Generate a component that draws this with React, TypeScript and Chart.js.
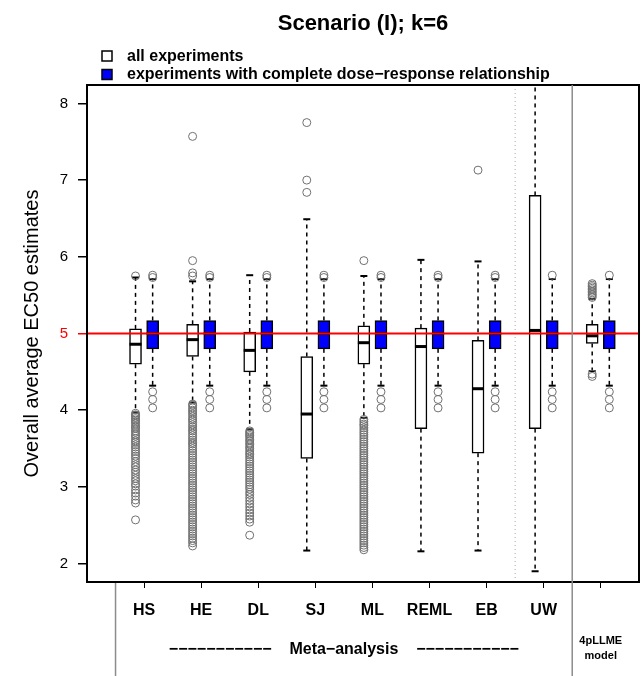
import React, { useEffect, useRef } from "react";
import { Chart, registerables } from "chart.js";

Chart.register(...registerables);

// ---------- data ----------
const TITLE = "Scenario (I); k=6";
const Y_AXIS_TITLE = "Overall average EC50 estimates";
const LEGEND_LABELS = ["all experiments", "experiments with complete dose\u2212response relationship"];
const CATEGORIES = ["HS", "HE", "DL", "SJ", "ML", "REML", "EB", "UW", "4pLLME\nmodel"];
const CATEGORY_POSITIONS = [1, 2, 3, 4, 5, 6, 7, 8, 9];
const GROUP_LABEL = "Meta\u2212analysis";
const Y_TICKS = [2, 3, 4, 5, 6, 7, 8];
const TRUE_EC50 = 5;

// all experiments: five-number summaries per category
const ALL_WHISKER_LOW = [3.97, 4.10, 3.75, 2.17, 3.90, 2.16, 2.17, 1.90, 4.51];
const ALL_Q1 = [4.60, 4.70, 4.50, 3.37, 4.60, 3.76, 3.44, 3.76, 4.87];
const ALL_MEDIAN = [4.86, 4.92, 4.78, 3.95, 4.88, 4.83, 4.28, 5.04, 4.97];
const ALL_Q3 = [5.06, 5.12, 5.02, 4.70, 5.10, 5.07, 4.91, 6.80, 5.12];
const ALL_WHISKER_HIGH = [5.73, 5.68, 5.76, 6.49, 5.75, 5.96, 5.94, 8.60, 5.45];

const ALL_OUTLIERS_HS = [5.75, 3.96, 3.94, 3.93, 3.91, 3.89, 3.87, 3.85, 3.83, 3.80, 3.78, 3.76, 3.73, 3.71, 3.68, 3.66, 3.63, 3.60, 3.58, 3.55, 3.52, 3.49, 3.46, 3.43, 3.40, 3.37, 3.33, 3.29, 3.26, 3.22, 3.19, 3.15, 3.11, 3.08, 3.04, 3.01, 2.96, 2.92, 2.88, 2.83, 2.79, 2.57];
const ALL_OUTLIERS_HE = [7.57, 5.95, 5.79, 5.75, 4.08, 4.06, 4.03, 4.00, 3.98, 3.95, 3.92, 3.89, 3.87, 3.84, 3.81, 3.78, 3.75, 3.73, 3.70, 3.67, 3.64, 3.61, 3.58, 3.56, 3.53, 3.50, 3.47, 3.44, 3.41, 3.38, 3.35, 3.32, 3.29, 3.26, 3.23, 3.20, 3.17, 3.14, 3.11, 3.08, 3.05, 3.02, 2.99, 2.96, 2.93, 2.90, 2.87, 2.84, 2.81, 2.78, 2.75, 2.72, 2.69, 2.66, 2.63, 2.60, 2.57, 2.54, 2.51, 2.48, 2.45, 2.42, 2.39, 2.36, 2.33, 2.30, 2.27, 2.23];
const ALL_OUTLIERS_DL = [3.73, 3.71, 3.69, 3.67, 3.65, 3.62, 3.60, 3.57, 3.55, 3.52, 3.50, 3.47, 3.44, 3.42, 3.39, 3.36, 3.33, 3.30, 3.27, 3.24, 3.21, 3.18, 3.15, 3.12, 3.09, 3.06, 3.03, 3.00, 2.97, 2.93, 2.90, 2.86, 2.82, 2.78, 2.74, 2.70, 2.66, 2.62, 2.58, 2.54, 2.37];
const ALL_OUTLIERS_SJ = [7.75, 7.00, 6.84];
const ALL_OUTLIERS_ML = [5.95, 3.88, 3.85, 3.82, 3.80, 3.77, 3.74, 3.71, 3.68, 3.65, 3.62, 3.59, 3.56, 3.53, 3.50, 3.47, 3.44, 3.41, 3.38, 3.35, 3.32, 3.29, 3.26, 3.23, 3.20, 3.17, 3.14, 3.11, 3.08, 3.05, 3.02, 2.99, 2.96, 2.93, 2.90, 2.87, 2.84, 2.81, 2.78, 2.75, 2.72, 2.69, 2.66, 2.63, 2.60, 2.57, 2.54, 2.51, 2.48, 2.45, 2.42, 2.39, 2.36, 2.33, 2.30, 2.27, 2.24, 2.21, 2.18];
const ALL_OUTLIERS_REML: number[] = [];
const ALL_OUTLIERS_EB = [7.13];
const ALL_OUTLIERS_UW: number[] = [];
const ALL_OUTLIERS_4PLLME = [5.65, 5.63, 5.61, 5.59, 5.57, 5.55, 5.53, 5.51, 5.49, 5.47, 4.47, 4.44];
const ALL_OUTLIERS = [ALL_OUTLIERS_HS, ALL_OUTLIERS_HE, ALL_OUTLIERS_DL, ALL_OUTLIERS_SJ, ALL_OUTLIERS_ML, ALL_OUTLIERS_REML, ALL_OUTLIERS_EB, ALL_OUTLIERS_UW, ALL_OUTLIERS_4PLLME];

// experiments with complete dose-response relationship
const COMPLETE_WHISKER_LOW = [4.32, 4.32, 4.32, 4.32, 4.32, 4.32, 4.32, 4.32, 4.32];
const COMPLETE_Q1 = [4.80, 4.80, 4.80, 4.80, 4.80, 4.80, 4.80, 4.80, 4.80];
const COMPLETE_MEDIAN = [5.00, 5.00, 5.00, 5.00, 5.00, 5.00, 5.00, 5.00, 5.00];
const COMPLETE_Q3 = [5.17, 5.17, 5.17, 5.17, 5.17, 5.17, 5.17, 5.17, 5.17];
const COMPLETE_WHISKER_HIGH = [5.71, 5.71, 5.71, 5.71, 5.71, 5.71, 5.71, 5.71, 5.71];
const COMPLETE_OUTLIERS = [
  [5.76, 5.73, 4.24, 4.14, 4.03],
  [5.76, 5.73, 4.24, 4.14, 4.03],
  [5.76, 5.73, 4.24, 4.14, 4.03],
  [5.76, 5.73, 4.24, 4.14, 4.03],
  [5.76, 5.73, 4.24, 4.14, 4.03],
  [5.76, 5.73, 4.24, 4.14, 4.03],
  [5.76, 5.73, 4.24, 4.14, 4.03],
  [5.76, 4.24, 4.14, 4.03],
  [5.76, 4.24, 4.14, 4.03],
];

// ---------- layout / style constants ----------
const W = 644;
const H = 676;
const X_MIN = 0;
const X_MAX = 9.67;
const Y_MIN = 1.76;
const Y_MAX = 8.24;
const ALL_OFFSET = -0.15;
const COMPLETE_OFFSET = 0.15;
const BOX_PX = 12;
const STAPLE_HALF_PX = 3.5;
const FONT = "'Liberation Sans', Arial, Helvetica, sans-serif";
const BLUE = "#0000ff";
const OUTLIER_GRAY = "#707070";
const SEPARATOR_GRAY = "#8c8c8c";

function line(ctx: CanvasRenderingContext2D, x1: number, y1: number, x2: number, y2: number) {
  ctx.beginPath();
  ctx.moveTo(x1, y1);
  ctx.lineTo(x2, y2);
  ctx.stroke();
}

function drawWhiskers(chart: any, low: number[], q1: number[], q3: number[], high: number[], offset: number) {
  const { ctx, scales } = chart;
  const xs = scales.x;
  const ys = scales.y;
  CATEGORY_POSITIONS.forEach((pos, i) => {
    const cx = xs.getPixelForValue(pos + offset);
    ctx.strokeStyle = "#000";
    ctx.lineWidth = 1.5;
    ctx.setLineDash([4, 4]);
    line(ctx, cx, ys.getPixelForValue(q3[i]), cx, ys.getPixelForValue(high[i]));
    line(ctx, cx, ys.getPixelForValue(q1[i]), cx, ys.getPixelForValue(low[i]));
    ctx.setLineDash([]);
    ctx.lineWidth = 2;
    const yh = ys.getPixelForValue(high[i]);
    const yl = ys.getPixelForValue(low[i]);
    line(ctx, cx - STAPLE_HALF_PX, yh, cx + STAPLE_HALF_PX, yh);
    line(ctx, cx - STAPLE_HALF_PX, yl, cx + STAPLE_HALF_PX, yl);
  });
}

function drawMedians(chart: any, med: number[], offset: number) {
  const { ctx, scales } = chart;
  CATEGORY_POSITIONS.forEach((pos, i) => {
    const cx = scales.x.getPixelForValue(pos + offset);
    const y = scales.y.getPixelForValue(med[i]);
    ctx.strokeStyle = "#000";
    ctx.lineWidth = 3;
    line(ctx, cx - BOX_PX / 2, y, cx + BOX_PX / 2, y);
  });
}

const boxplotPlugin = {
  id: "boxplotExtras",
  beforeDatasetsDraw(chart: any) {
    const { ctx, chartArea, scales } = chart;
    ctx.save();
    ctx.beginPath();
    ctx.rect(chartArea.left, chartArea.top, chartArea.right - chartArea.left, chartArea.bottom - chartArea.top);
    ctx.clip();
    // dotted separator between EB and UW
    const xd = scales.x.getPixelForValue(7.5);
    ctx.strokeStyle = "#a8a8a8";
    ctx.lineWidth = 1;
    ctx.setLineDash([1, 3]);
    line(ctx, xd, chartArea.top, xd, chartArea.bottom);
    ctx.setLineDash([]);
    drawWhiskers(chart, ALL_WHISKER_LOW, ALL_Q1, ALL_Q3, ALL_WHISKER_HIGH, ALL_OFFSET);
    drawWhiskers(chart, COMPLETE_WHISKER_LOW, COMPLETE_Q1, COMPLETE_Q3, COMPLETE_WHISKER_HIGH, COMPLETE_OFFSET);
    ctx.restore();
  },
  afterDatasetsDraw(chart: any) {
    const { ctx, chartArea, scales } = chart;
    ctx.save();
    drawMedians(chart, ALL_MEDIAN, ALL_OFFSET);
    drawMedians(chart, COMPLETE_MEDIAN, COMPLETE_OFFSET);
    // reference line at true EC50
    const yr = scales.y.getPixelForValue(TRUE_EC50);
    ctx.strokeStyle = "#ff0000";
    ctx.lineWidth = 2;
    line(ctx, chartArea.left, yr, chartArea.right, yr);
    ctx.restore();
  },
  afterDraw(chart: any) {
    const { ctx, chartArea, scales } = chart;
    const xs = scales.x;
    ctx.save();
    // plot frame
    ctx.strokeStyle = "#000";
    ctx.lineWidth = 2;
    ctx.strokeRect(chartArea.left, chartArea.top, chartArea.right - chartArea.left, chartArea.bottom - chartArea.top);
    // gray separators
    ctx.strokeStyle = SEPARATOR_GRAY;
    ctx.lineWidth = 1.5;
    const xs1 = xs.getPixelForValue(0.5);
    line(ctx, xs1, chartArea.bottom + 1, xs1, H);
    const xs2 = xs.getPixelForValue(8.5);
    line(ctx, xs2, chartArea.top, xs2, H);
    // category labels
    ctx.fillStyle = "#000";
    ctx.textAlign = "center";
    ctx.textBaseline = "middle";
    CATEGORY_POSITIONS.forEach((pos, i) => {
      const parts = CATEGORIES[i].split("\n");
      const cx = xs.getPixelForValue(pos);
      if (parts.length === 1) {
        ctx.font = `bold 16px ${FONT}`;
        ctx.fillText(parts[0], cx, 611);
      } else {
        ctx.font = `bold 11px ${FONT}`;
        ctx.fillText(parts[0], cx, 641);
        ctx.fillText(parts[1], cx, 656);
      }
    });
    // group label
    ctx.font = `bold 16px ${FONT}`;
    const dashes = "\u2212".repeat(11);
    ctx.fillText(`${dashes}    ${GROUP_LABEL}    ${dashes}`, xs.getPixelForValue(4.5), 650);
    // title
    ctx.font = `bold 22px ${FONT}`;
    ctx.textBaseline = "alphabetic";
    ctx.fillText(TITLE, (chartArea.left + chartArea.right) / 2, 30);
    // legend
    ctx.lineWidth = 1.5;
    ctx.strokeStyle = "#000";
    ctx.fillStyle = "#fff";
    ctx.fillRect(102, 51, 10, 10);
    ctx.strokeRect(102, 51, 10, 10);
    ctx.fillStyle = BLUE;
    ctx.fillRect(102, 69.5, 10, 10);
    ctx.strokeRect(102, 69.5, 10, 10);
    ctx.fillStyle = "#000";
    ctx.font = `bold 16px ${FONT}`;
    ctx.textAlign = "left";
    ctx.textBaseline = "middle";
    ctx.fillText(LEGEND_LABELS[0], 127, 56.5);
    ctx.fillText(LEGEND_LABELS[1], 127, 75);
    ctx.restore();
  },
};

export default function App() {
  const canvasRef = useRef<HTMLCanvasElement | null>(null);

  useEffect(() => {
    if (!canvasRef.current) return;
    const boxData = (q1: number[], q3: number[], offset: number) =>
      CATEGORY_POSITIONS.map((pos, i) => ({ x: pos + offset, y: [q1[i], q3[i]] }));
    const outlierData = (lists: number[][], offset: number) =>
      lists.flatMap((vals, i) => vals.map((v) => ({ x: CATEGORY_POSITIONS[i] + offset, y: v })));

    const chart = new Chart(canvasRef.current, {
      type: "scatter",
      data: {
        datasets: [
          {
            type: "scatter",
            label: "all experiments outliers",
            data: outlierData(ALL_OUTLIERS, ALL_OFFSET),
            pointStyle: "circle",
            pointRadius: 4,
            pointBorderWidth: 1,
            pointBorderColor: OUTLIER_GRAY,
            pointBackgroundColor: "rgba(0,0,0,0)",
          },
          {
            type: "scatter",
            label: "complete outliers",
            data: outlierData(COMPLETE_OUTLIERS, COMPLETE_OFFSET),
            pointStyle: "circle",
            pointRadius: 4,
            pointBorderWidth: 1,
            pointBorderColor: OUTLIER_GRAY,
            pointBackgroundColor: "rgba(0,0,0,0)",
          },
          {
            type: "bar",
            label: LEGEND_LABELS[0],
            data: boxData(ALL_Q1, ALL_Q3, ALL_OFFSET) as any,
            backgroundColor: "#ffffff",
            borderColor: "#000000",
            borderWidth: 1.5,
            borderSkipped: false,
            barThickness: BOX_PX,
            grouped: false,
          } as any,
          {
            type: "bar",
            label: LEGEND_LABELS[1],
            data: boxData(COMPLETE_Q1, COMPLETE_Q3, COMPLETE_OFFSET) as any,
            backgroundColor: BLUE,
            borderColor: "#000000",
            borderWidth: 1.5,
            borderSkipped: false,
            barThickness: BOX_PX,
            grouped: false,
          } as any,
        ],
      },
      options: {
        animation: false,
        responsive: false,
        devicePixelRatio: 1,
        events: [],
        layout: { padding: { top: 85, right: 3, left: 0, bottom: 0 } },
        plugins: { legend: { display: false }, title: { display: false }, tooltip: { enabled: false } },
        scales: {
          x: {
            type: "linear",
            min: X_MIN,
            max: X_MAX,
            offset: false,
            afterBuildTicks: (scale: any) => {
              scale.ticks = CATEGORY_POSITIONS.map((v) => ({ value: v }));
            },
            afterFit: (scale: any) => {
              scale.height = 94;
            },
            grid: { drawOnChartArea: false, drawTicks: true, tickLength: 6, color: "#000", lineWidth: 1, offset: false },
            border: { display: false },
            ticks: { display: false },
          },
          y: {
            type: "linear",
            min: Y_MIN,
            max: Y_MAX,
            afterBuildTicks: (scale: any) => {
              scale.ticks = Y_TICKS.map((v) => ({ value: v }));
            },
            afterFit: (scale: any) => {
              scale.width = 87;
            },
            grid: {
              drawOnChartArea: false,
              drawTicks: true,
              tickLength: 9,
              lineWidth: 1.5,
              color: (c: any) => (c.tick && c.tick.value === TRUE_EC50 ? "#ff0000" : "#000"),
            },
            border: { display: false },
            ticks: {
              padding: 10,
              font: { family: FONT, size: 15 },
              color: (c: any) => (c.tick && c.tick.value === TRUE_EC50 ? "#ff0000" : "#000"),
            },
            title: {
              display: true,
              text: Y_AXIS_TITLE,
              color: "#000",
              font: { family: FONT, size: 20 },
              padding: { top: 20, bottom: 0 },
            },
          },
        },
      } as any,
      plugins: [boxplotPlugin],
    });
    return () => chart.destroy();
  }, []);

  return (
    <div style={{ position: "absolute", left: 0, top: 0, width: W, height: H, background: "#fff" }}>
      <canvas ref={canvasRef} width={W} height={H} style={{ display: "block", width: W, height: H }} />
    </div>
  );
}
